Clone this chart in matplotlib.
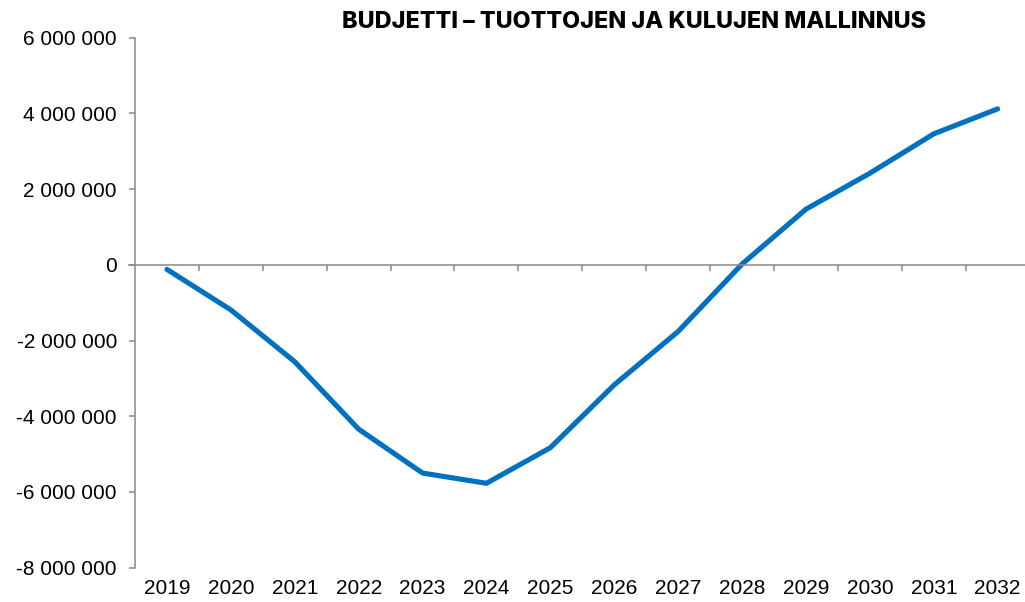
# Budjetti - tuottojen ja kulujen mallinnus (line chart)

import numpy as np
import matplotlib.pyplot as plt
from matplotlib.ticker import FuncFormatter

# -------------------- Data --------------------
years = ["2019", "2020", "2021", "2022", "2023", "2024", "2025",
         "2026", "2027", "2028", "2029", "2030", "2031", "2032"]
balance = [-120000, -1190000, -2560000, -4340000, -5500000, -5770000, -4830000,
           -3170000, -1760000, 20000, 1470000, 2420000, 3460000, 4120000]
y_ticks = [-8000000, -6000000, -4000000, -2000000, 0, 2000000, 4000000, 6000000]
title = "BUDJETTI – TUOTTOJEN JA KULUJEN MALLINNUS"

# -------------------- Figure --------------------
plt.rcParams['font.family'] = ['Liberation Sans', 'DejaVu Sans']
axis_grey = "#898989"

fig = plt.figure(figsize=(10.25, 6.02), dpi=100)
ax = fig.add_axes([135 / 1025, 1 - 567.7 / 602, 894.6 / 1025, 530 / 602])

x = np.arange(len(years))
ax.plot(x, balance, color="#0070C0", linewidth=3.7, solid_capstyle="round",
        solid_joinstyle="round")

ax.set_xlim(-0.5, len(years) - 0.5)
ax.set_ylim(y_ticks[0], y_ticks[-1])
ax.set_yticks(y_ticks)
ax.yaxis.set_major_formatter(FuncFormatter(lambda v, p: f"{int(v):,}".replace(",", " ")))
ax.tick_params(axis="y", direction="out", length=4.5, width=1.1, color=axis_grey,
               labelsize=15, pad=8.5)

# zero line with tick marks between categories
for s in ["top", "right"]:
    ax.spines[s].set_visible(False)
ax.spines["left"].set_color(axis_grey)
ax.spines["left"].set_linewidth(1.1)
ax.spines["bottom"].set_position(("data", 0))
ax.spines["bottom"].set_color(axis_grey)
ax.spines["bottom"].set_linewidth(1.1)
ax.spines["bottom"].set_bounds(-0.6, len(years) - 0.5)
ax.set_xticks(x[1:] - 0.5)
ax.set_xticklabels([])
ax.tick_params(axis="x", direction="out", length=4.5, width=1.1, color=axis_grey)

# category labels at the bottom of the plot
sec = ax.secondary_xaxis(0)
sec.set_xticks(x)
sec.set_xticklabels(years)
sec.spines["bottom"].set_visible(False)
sec.tick_params(axis="x", length=0, labelsize=15, pad=8)

fig.text(634.5 / 1025, 1 - 22 / 602, title, ha="center", va="center",
         fontsize=16.8, fontweight=800, family=["Inter", "DejaVu Sans"])

fig.savefig("out.png", dpi=100)
